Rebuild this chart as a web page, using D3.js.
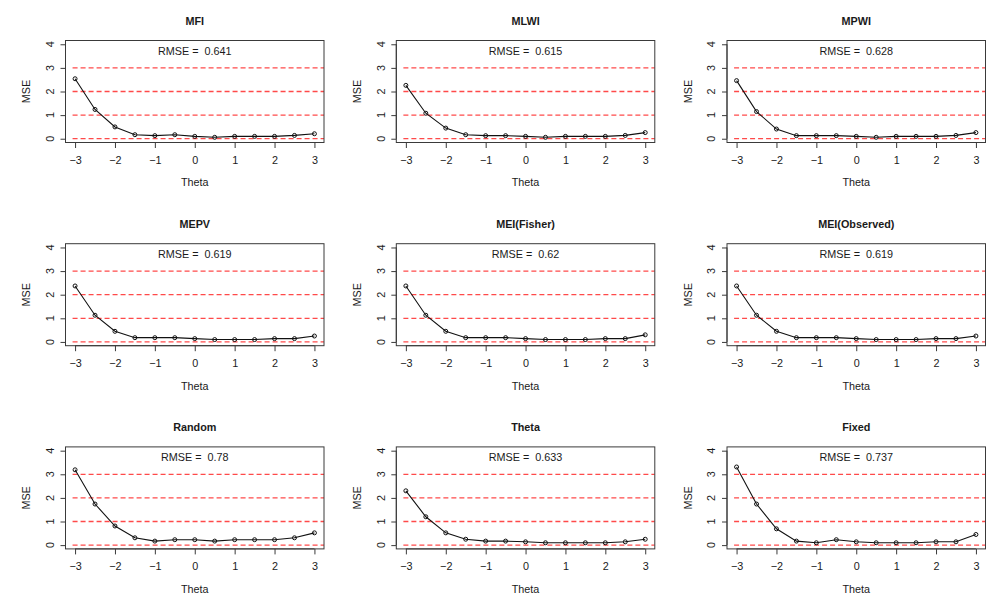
<!DOCTYPE html>
<html>
<head>
<meta charset="utf-8">
<script src="https://cdn.jsdelivr.net/npm/d3@7"></script>
<style>
  body { margin: 0; background: #fff; }
  svg { display: block; }
  text { font-family: "Liberation Sans", Arial, Helvetica, sans-serif; fill: #1a1a1a; }
</style>
</head>
<body>
<div id="chart"></div>
<script>
// theta grid shared by all panels
const theta = [-3, -2.5, -2, -1.5, -1, -0.5, 0, 0.5, 1, 1.5, 2, 2.5, 3];

const panelTitles = ["MFI", "MLWI", "MPWI", "MEPV", "MEI(Fisher)", "MEI(Observed)", "Random", "Theta", "Fixed"];
const rmseValues = ["0.641", "0.615", "0.628", "0.619", "0.62", "0.619", "0.78", "0.633", "0.737"];

// MSE per theta
const mseMFI      = [2.54, 1.24, 0.50, 0.17, 0.13, 0.17, 0.10, 0.06, 0.10, 0.10, 0.10, 0.14, 0.21];
const mseMLWI     = [2.26, 1.08, 0.45, 0.17, 0.13, 0.13, 0.10, 0.06, 0.10, 0.10, 0.10, 0.14, 0.26];
const mseMPWI     = [2.46, 1.15, 0.41, 0.13, 0.13, 0.13, 0.10, 0.06, 0.10, 0.10, 0.10, 0.14, 0.26];
const mseMEPV     = [2.37, 1.13, 0.45, 0.18, 0.18, 0.18, 0.14, 0.10, 0.10, 0.10, 0.14, 0.14, 0.25];
const mseFisher   = [2.37, 1.13, 0.45, 0.18, 0.18, 0.18, 0.14, 0.10, 0.10, 0.10, 0.14, 0.14, 0.30];
const mseObserved = [2.37, 1.13, 0.45, 0.18, 0.18, 0.18, 0.14, 0.10, 0.10, 0.10, 0.14, 0.14, 0.25];
const mseRandom   = [3.19, 1.74, 0.81, 0.31, 0.17, 0.23, 0.23, 0.17, 0.23, 0.23, 0.23, 0.31, 0.52];
const mseTheta    = [2.30, 1.20, 0.52, 0.25, 0.17, 0.17, 0.14, 0.10, 0.10, 0.10, 0.10, 0.14, 0.25];
const mseFixed    = [3.31, 1.74, 0.69, 0.17, 0.10, 0.23, 0.14, 0.10, 0.10, 0.10, 0.14, 0.14, 0.45];

const mseSeries = [mseMFI, mseMLWI, mseMPWI, mseMEPV, mseFisher, mseObserved, mseRandom, mseTheta, mseFixed];

const yTicks = [0, 1, 2, 3, 4];
const xTicks = [-3, -2, -1, 0, 1, 2, 3];
const refLines = [0, 1, 2, 3];

const width = 1002, height = 603;

// plot-box layout (R mfrow = c(3,3))
const colLeft = [65.5, 396.3, 727];
const rowTop = [40.5, 243.7, 446.9];
const boxW = 258.5, boxH = 102;

const svg = d3.select("#chart").append("svg")
    .attr("width", width)
    .attr("height", height);

const fmt = d => d < 0 ? "\u2212" + Math.abs(d) : String(d);

mseSeries.forEach((values, i) => {
    let col = i % 3, row = Math.floor(i / 3);

    let g = svg.append("g")
        .attr("transform", `translate(${colLeft[col]}, ${rowTop[row]})`);

    // R's 4% axis extension
    let x = d3.scaleLinear().domain([-3.24, 3.24]).range([0, boxW]);
    let y = d3.scaleLinear().domain([-0.16, 4.16]).range([boxH, 0]);

    let clipId = "clip" + i;
    g.append("clipPath").attr("id", clipId)
        .append("rect").attr("width", boxW).attr("height", boxH);

    // dashed reference lines
    g.append("g").attr("clip-path", `url(#${clipId})`)
        .selectAll("line")
        .data(refLines)
        .enter().append("line")
            .attr("x1", x(-3) - 2.5)
            .attr("x2", boxW)
            .attr("y1", d => y(d))
            .attr("y2", d => y(d))
            .attr("stroke", "#ff2a2a")
            .attr("stroke-opacity", 0.85)
            .attr("stroke-width", 1.3)
            .attr("stroke-dasharray", "5,3");

    // MSE curve
    let line = d3.line()
        .x((d, j) => x(theta[j]))
        .y(d => y(d));

    g.append("path")
        .datum(values)
        .attr("d", line)
        .attr("fill", "none")
        .attr("stroke", "#111")
        .attr("stroke-width", 1.1);

    g.selectAll("circle")
        .data(values)
        .enter().append("circle")
            .attr("cx", (d, j) => x(theta[j]))
            .attr("cy", d => y(d))
            .attr("r", 2)
            .attr("fill", "none")
            .attr("stroke", "#111")
            .attr("stroke-width", 1);

    // box
    g.append("rect")
        .attr("width", boxW)
        .attr("height", boxH)
        .attr("fill", "none")
        .attr("stroke", "#3a3a3a")
        .attr("stroke-width", 1);

    // x axis
    let xAxis = d3.axisBottom(x)
        .tickValues(xTicks)
        .tickSize(5.5)
        .tickPadding(8)
        .tickFormat(fmt);

    let xg = g.append("g")
        .attr("transform", `translate(0, ${boxH})`)
        .call(xAxis);
    xg.select(".domain").attr("d", `M${x(-3)},0H${x(3)}`).attr("stroke", "#3a3a3a");
    xg.selectAll(".tick line").attr("stroke", "#3a3a3a");
    xg.selectAll(".tick text")
        .attr("font-size", "10.8px")
        .attr("fill", "#1a1a1a")
        .style("font-family", '"Liberation Sans", Arial, sans-serif');

    // y axis, labels rotated like R's las = 0
    let yAxis = d3.axisLeft(y)
        .tickValues(yTicks)
        .tickSize(5)
        .tickFormat(d => "");

    let yg = g.append("g").call(yAxis);
    yg.select(".domain").attr("d", `M0,${y(0)}V${y(4)}`).attr("stroke", "#3a3a3a");
    yg.selectAll(".tick line").attr("stroke", "#3a3a3a");

    g.selectAll(".ylab")
        .data(yTicks)
        .enter().append("text")
            .attr("class", "ylab")
            .attr("transform", d => `translate(-15.5, ${y(d)}) rotate(-90)`)
            .attr("text-anchor", "middle")
            .attr("dy", "0.35em")
            .attr("font-size", "10.8px")
            .text(d => d);

    // axis titles
    g.append("text")
        .attr("x", boxW / 2)
        .attr("y", boxH + 40.2 + 3.7)
        .attr("text-anchor", "middle")
        .attr("font-size", "10.8px")
        .text("Theta");

    g.append("text")
        .attr("transform", `translate(-38.8, ${boxH / 2}) rotate(-90)`)
        .attr("text-anchor", "middle")
        .attr("dy", "0.35em")
        .attr("font-size", "10.8px")
        .text("MSE");

    // main title
    g.append("text")
        .attr("x", boxW / 2)
        .attr("y", -19.8 + 3.8)
        .attr("text-anchor", "middle")
        .attr("font-size", "10.8px")
        .attr("font-weight", "bold")
        .text(panelTitles[i]);

    // RMSE label
    g.append("text")
        .attr("x", boxW / 2)
        .attr("y", 10.2 + 3.8)
        .attr("text-anchor", "middle")
        .attr("font-size", "10.8px")
        .style("white-space", "pre")
        .text("RMSE =  " + rmseValues[i]);
});
</script>
</body>
</html>
